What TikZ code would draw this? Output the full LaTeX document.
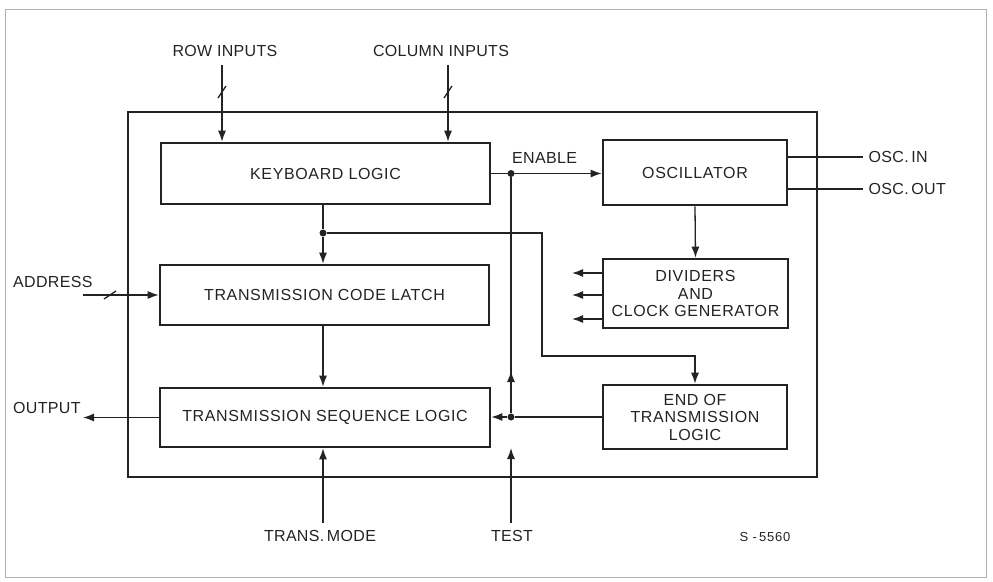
\documentclass[tikz,border=0pt]{standalone}
\usepackage{fontspec}
\setmainfont{Liberation Sans}
\usetikzlibrary{arrows.meta}
\definecolor{ink}{RGB}{35,35,35}
\newcommand\busmark[1]{\draw[sig] (#1) ++(-4,6) -- ++(8,-12);}
\begin{document}
\begin{tikzpicture}
[x=1pt,y=-1pt,ink,
 font=\fontsize{16}{19}\selectfont\addfontfeature{LetterSpace=2},
 blk/.style={draw,line width=2.6pt,inner sep=0pt,align=center,
   font=\fontsize{16}{17.5}\selectfont\addfontfeature{LetterSpace=4}},
 sig/.style={line width=1.3pt},
 arr/.style={sig,-{Latex[length=11pt,width=8pt]}},
 dot/.style={circle,fill,inner sep=0pt,minimum size=7pt},
 lbl/.style={inner sep=0pt}]
\useasboundingbox (0,0) rectangle (993,581);
\draw[line width=0.8pt,gray!60] (5,9) rectangle (986,577);
% chip outline
\draw[line width=2.2pt] (128,112) rectangle (817,477);
% blocks
\node[blk,minimum width=329,minimum height=61] (kbd) at (325.5,173.5) {KEYBOARD\hspace{5pt}LOGIC};
\node[blk,minimum width=329,minimum height=60] (latch) at (324.5,295) {TRANSMISSION\hspace{5pt}CODE\hspace{5pt}LATCH};
\node[blk,minimum width=330,minimum height=59] (seq) at (325,417.5) {TRANSMISSION\hspace{5pt}SEQUENCE\hspace{5pt}LOGIC};
\node[blk,minimum width=184,minimum height=65] (osc) at (695,172.5) {OSCILLATOR};
\node[blk,minimum width=185,minimum height=69] (div) at (695.5,293.5) {DIVIDERS\\AND\\CLOCK GENERATOR};
\node[blk,minimum width=184,minimum height=64] (eot) at (695,417) {END OF\\TRANSMISSION\\LOGIC};
% pins
\coordinate (row) at (222,65);
\coordinate (col) at (448,65);
\coordinate (addr) at (83,295);
\coordinate (outp) at (83,417.5);
\coordinate (mode) at (323,523);
\coordinate (test) at (511,523);
% junctions
\node[dot] (en) at (511,173.5) {};
\node[dot] (kl) at (323,233) {};
\node[dot] (tj) at (511,417) {};
% inputs
\draw[arr] (row) -- (row |- kbd.north);
\draw[arr] (col) -- (col |- kbd.north);
\busmark{222,92}
\busmark{448,92}
\node[lbl] at (225,51) {ROW INPUTS};
\node[lbl] at (441,51) {COLUMN INPUTS};
% enable
\draw[arr] (kbd.east) -- (kbd.east -| osc.west);
\node[lbl,anchor=west] at (512,158) {ENABLE};
\draw[arr] (tj) -- (511,371);
\draw[sig] (511,375) -- (en);
% oscillator pins
\draw[sig] (osc.east |- 0,157) -- (863,157) node[lbl,anchor=west,xshift=5pt] {OSC.\,IN};
\draw[sig] (osc.east |- 0,189) -- (863,189) node[lbl,anchor=west,xshift=5pt] {OSC.\,OUT};
\draw[arr] (osc.south) -- (div.north);
% divider outputs
\foreach \yy in {273,295,319}
  \draw[arr] (div.west |- 0,\yy) -- (572,\yy);
% main chain
\draw[sig] (kl |- kbd.south) -- (kl);
\draw[arr] (kl) -- (kl |- latch.north);
\draw[arr] (kl |- latch.south) -- (kl |- seq.north);
\draw[arr] (kl) -- (542,233) -- (542,356) -| (eot.north);
% end of transmission
\draw[sig] (eot.west |- tj) -- (tj);
\draw[arr] (tj) -- (tj -| seq.east);
% address and output
\draw[arr] (addr) -- (latch.west);
\draw[sig] (110,295) ++(-6,4) -- ++(12,-8);
\node[lbl,anchor=west] at (13,282) {ADDRESS};
\draw[arr] (seq.west) -- (outp);
\node[lbl,anchor=west] at (13,408) {OUTPUT};
% bottom pins
\draw[arr] (mode) -- (mode |- seq.south);
\node[lbl] at (320,536) {TRANS.\,MODE};
\draw[arr] (test) -- (511,448);
\node[lbl] at (512,536) {TEST};
\node[lbl,font=\fontsize{13}{15}\selectfont\addfontfeature{LetterSpace=6}] at (765,537) {S\,\,-\,5560};
\end{tikzpicture}
\end{document}
